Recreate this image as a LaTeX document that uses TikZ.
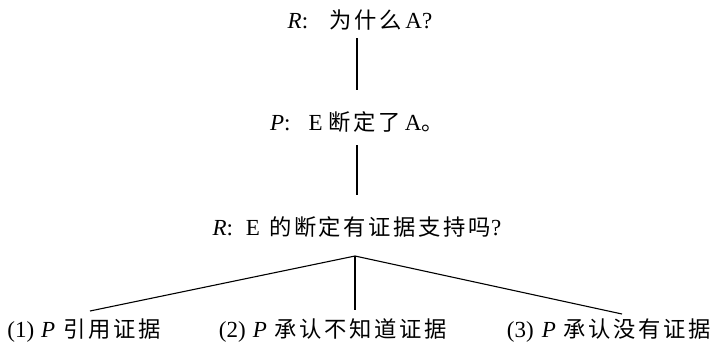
\documentclass[tikz,border=0pt]{standalone}
\usepackage{fontspec}
\setmainfont{Liberation Serif}
\newfontfamily\cjk{Noto Sans CJK SC}[Scale=0.97,LetterSpace=12]
\newcommand{\zh}[1]{{\cjk #1}}
\begin{document}
\begin{tikzpicture}[x=1pt,y=-1pt,
  lbl/.style={inner sep=0pt, font=\fontsize{23}{26}\selectfont},
  edge/.style={line width=1.1pt}]
\useasboundingbox (0,0) rectangle (719,346);
\node[lbl] (q1) at (360,20) {\textit{R}:\hspace{21pt}\zh{为什么}\hspace{4pt}A?};
\node[lbl] (a1) at (357,122) {\textit{P}:\hspace{18pt}E\hspace{6pt}\zh{断定了}\hspace{4pt}A\zh{。}};
\node[lbl] (q2) at (357,227) {\textit{R}:\hspace{13pt}E\hspace{9pt}\zh{的断定有证据支持吗}?};
\node[lbl] (b1) at (84,331) {(1)\hspace{7pt}\textit{P}\hspace{8pt}\zh{引用证据}};
\node[lbl] (b2) at (333,331) {(2)\hspace{7pt}\textit{P}\hspace{8pt}\zh{承认不知道证据}};
\node[lbl] (b3) at (609,331) {(3)\hspace{8pt}\textit{P}\hspace{8pt}\zh{承认没有证据}};
\coordinate (t1) at (357,38);
\coordinate (t2) at (357,90);
\coordinate (t3) at (357,145);
\coordinate (t4) at (357,195);
\coordinate (br) at (355,256);
\coordinate (e1) at (90,311);
\coordinate (e2) at (355,310);
\coordinate (e3) at (622,314);
\draw[edge] (t1) -- (t2);
\draw[edge] (t3) -- (t4);
\draw[edge] (br) -- (e1);
\draw[edge] (br) -- (e2);
\draw[edge] (br) -- (e3);
\end{tikzpicture}
\end{document}
